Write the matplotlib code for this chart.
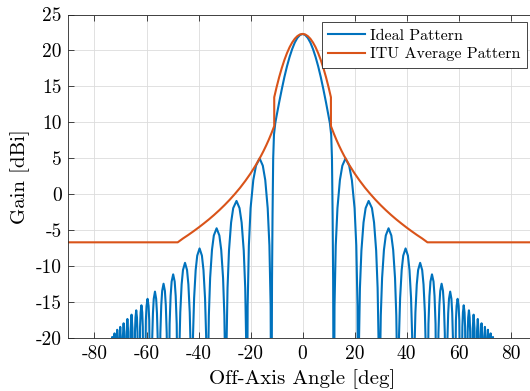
import matplotlib
matplotlib.use("Agg")
import matplotlib.pyplot as plt
import numpy as np

# ideal pattern, positive half (angle in deg, gain in dBi)
ideal_ang = [0, 1, 2, 3, 4, 5, 6, 7, 8, 9, 10, 10.5, 11.0, 11.3, 11.55, 11.75, 12.0,
             12.28, 12.75, 13.41, 14.35, 15.29, 16.5, 17.91, 18.95, 19.99, 20.65, 21.12, 21.4,
             21.64, 22.05, 22.62, 23.43, 24.24, 25.4, 26.67, 27.48, 28.29, 28.85, 29.26, 29.5,
             29.71, 30.07, 30.57, 31.28, 31.99, 33.05, 34.12, 34.83, 35.54, 36.03, 36.39, 36.6,
             37.08, 37.5, 38.1, 38.7, 39.6, 40.5, 41.1, 41.7, 42.12, 42.6,
             43.02, 43.38, 43.9, 44.42, 45.2, 45.98, 46.5, 47.02, 47.38, 47.8,
             48.39, 48.78, 49.17, 49.75, 50.34, 50.73, 51.12, 51.7,
             52.23, 52.58, 52.93, 53.45, 53.98, 54.33, 54.68, 55.2,
             55.67, 55.98, 56.29, 56.75, 57.22, 57.53, 57.84, 58.3,
             58.95, 59.21, 59.6, 59.99, 60.25, 60.9,
             61.43, 61.64, 61.95, 62.27, 62.48, 63.0,
             63.48, 63.67, 63.95, 64.24, 64.43, 64.9,
             65.41, 65.75, 66.09, 66.6,
             67.05, 67.35, 67.65, 68.1,
             68.52, 68.8, 69.08, 69.5,
             69.86, 70.1, 70.34, 70.7,
             71.03, 71.25, 71.47, 71.8,
             72.1, 72.3, 72.5, 72.8,
             73.2, 73.6]
ideal_gain = [22.3, 22.15, 21.75, 21.1, 20.2, 19.1, 17.8, 16.3, 14.6, 12.8, 10.9, 9.9, 8.3, 5.0, -3.0, -12.0, -40,
              -15.5, -7.1, -1.9, 2.0, 4.0, 5.0, 4.0, 2.0, -1.9, -7.1, -15.5, -40,
              -21.4, -13.0, -7.8, -3.9, -1.9, -0.9, -1.9, -3.9, -7.8, -13.0, -21.4, -40,
              -25.2, -16.8, -11.6, -7.7, -5.7, -4.7, -5.7, -7.7, -11.6, -16.8, -25.2, -40,
              -19.6, -14.4, -10.5, -8.5, -7.5, -8.5, -10.5, -14.4, -19.6, -40,
              -21.6, -16.4, -12.5, -10.5, -9.5, -10.5, -12.5, -16.4, -21.6, -40,
              -18.0, -14.1, -12.1, -11.1, -12.1, -14.1, -18.0, -40,
              -19.3, -15.4, -13.4, -12.4, -13.4, -15.4, -19.3, -40,
              -20.4, -16.5, -14.5, -13.5, -14.5, -16.5, -20.4, -40,
              -17.5, -15.5, -14.5, -15.5, -17.5, -40,
              -18.4, -16.4, -15.4, -16.4, -18.4, -40,
              -19.1, -17.1, -16.1, -17.1, -19.1, -40,
              -18.6, -16.7, -18.6, -40,
              -19.1, -17.3, -19.1, -40,
              -19.7, -17.9, -19.7, -40,
              -20.2, -18.4, -20.2, -40,
              -20.6, -18.8, -20.6, -40,
              -21.1, -19.3, -21.1, -40,
              -19.8, -40]

# ITU average pattern, positive half
itu_ang = [0, 1, 2, 3, 4, 5, 6, 7, 8, 9, 10, 10.9, 10.9, 12, 13, 14, 15, 16, 18, 20, 22, 24,
           26, 28, 30, 32, 34, 36, 38, 40, 42, 44, 46, 48, 90]
itu_gain = [22.3, 22.23, 22.0, 21.63, 21.11, 20.45, 19.63, 18.67, 17.56, 16.3, 14.89, 13.5, 9.5,
            8.47, 7.6, 6.8, 6.05, 5.35, 4.07, 2.92, 1.89, 0.94, 0.08, -0.73, -1.48, -2.18,
            -2.84, -3.46, -4.04, -4.6, -5.13, -5.64, -6.12, -6.65, -6.65]

xticks = [-80, -60, -40, -20, 0, 20, 40, 60, 80]
yticks = [-20, -15, -10, -5, 0, 5, 10, 15, 20, 25]


def mirror(a, g):
    a = np.array(a)
    g = np.array(g)
    return np.concatenate([-a[::-1], a[1:]]), np.concatenate([g[::-1], g[1:]])


plt.rcParams['font.family'] = 'serif'
plt.rcParams['font.serif'] = ['cmr10']
plt.rcParams['mathtext.fontset'] = 'cm'
plt.rcParams['axes.unicode_minus'] = False
plt.rcParams['axes.formatter.use_mathtext'] = True

fig = plt.figure(figsize=(5.3, 3.91), dpi=100)
ax = fig.add_axes([0.1292, 0.1345, 0.8834, 0.8284])

t, g = mirror(ideal_ang, ideal_gain)
ax.plot(t, g, color='#0072BD', lw=1.5, label='Ideal Pattern')
t, g = mirror(itu_ang, itu_gain)
ax.plot(t, g, color='#D95319', lw=1.5, label='ITU Average Pattern')

ax.set_xlim(-90, 90)
ax.set_ylim(-20, 25)
ax.set_xticks(xticks)
ax.set_xticklabels([str(v) for v in xticks])
ax.set_yticks(yticks)
ax.set_yticklabels([str(v) for v in yticks])
ax.tick_params(direction='in', top=True, right=True, labelsize=14, length=4,
               color='#262626', width=0.6, pad=5)
ax.grid(True, color='#dcdcdc', lw=0.6)
ax.set_axisbelow(True)
for s in ax.spines.values():
    s.set_color('#262626')
    s.set_linewidth(0.6)

ax.set_xlabel('Off-Axis Angle [deg]', fontsize=15, labelpad=4)
ax.set_ylabel('Gain [dBi]', fontsize=15, labelpad=4)

leg = ax.legend(loc='upper right', bbox_to_anchor=(0.9786, 0.977), fontsize=11.5,
                fancybox=False, framealpha=1, edgecolor='#262626', borderpad=0.4,
                handlelength=2.3, handletextpad=0.3, labelspacing=0.3, borderaxespad=0)
leg.get_frame().set_linewidth(0.6)

fig.savefig('out.png', dpi=100)
